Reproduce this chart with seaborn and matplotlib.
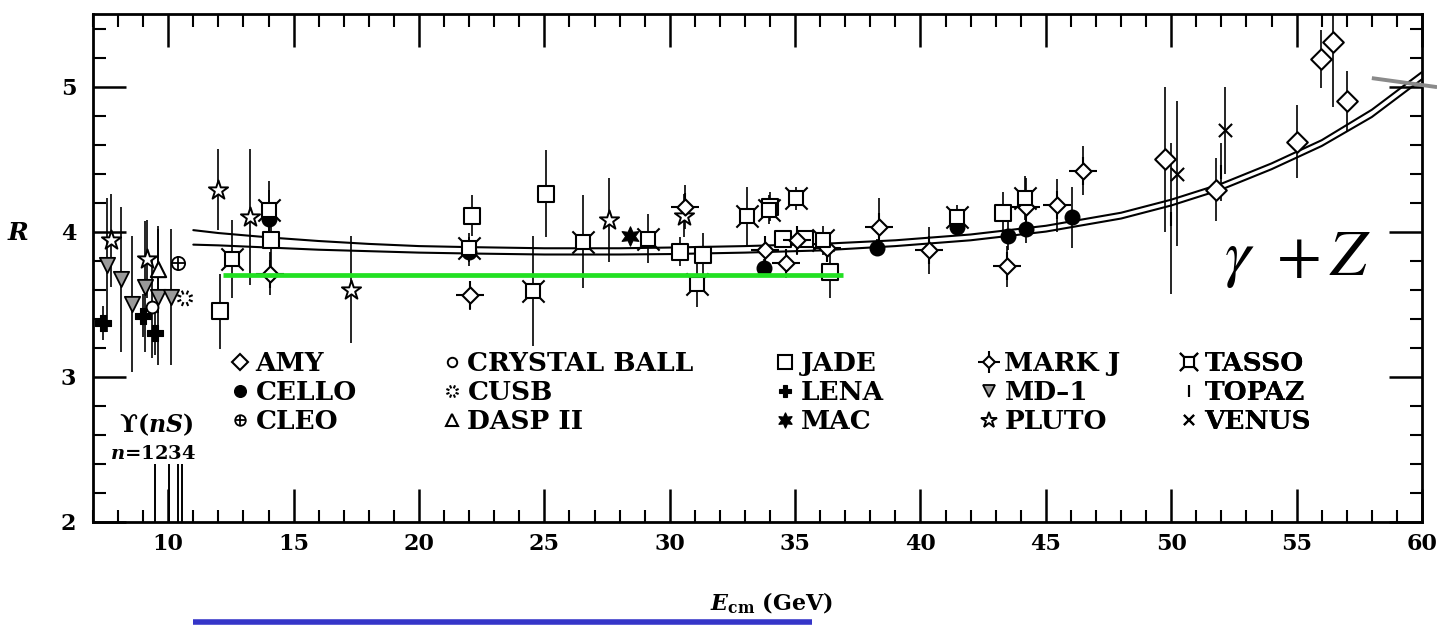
import numpy as np
import pandas as pd
import matplotlib
matplotlib.use("Agg")
import matplotlib.pyplot as plt
from matplotlib.lines import Line2D
from matplotlib.path import Path
from matplotlib.ticker import MultipleLocator
import seaborn as sns

# ---------------- data ----------------
amy_E = [49.76, 51.78, 55.0, 55.97, 56.47, 57.0]
amy_R = [4.50, 4.29, 4.62, 5.19, 5.31, 4.90]
amy_err = [0.50, 0.22, 0.25, 0.20, 0.45, 0.21]

cello_E = [14.03, 22.0, 33.76, 38.26, 41.45, 43.47, 44.21, 46.04]
cello_R = [4.09, 3.86, 3.75, 3.89, 4.03, 3.97, 4.02, 4.10]
cello_err = [0.20, 0.10, 0.06, 0.06, 0.06, 0.10, 0.10, 0.21]

cleo_E = [10.40]
cleo_R = [3.78]
cleo_err = [0.0]

cball_E = [9.34]
cball_R = [3.48]
cball_err = [0.35]

cusb_E = [10.67]
cusb_R = [3.54]
cusb_err = [0.0]

dasp_E = [9.60]
dasp_R = [3.74]
dasp_err = [0.30]

jade_E = [12.06, 14.08, 22.10, 25.07, 30.41, 31.32, 34.0, 34.53, 35.4, 36.4, 43.28]
jade_R = [3.45, 3.94, 4.11, 4.26, 3.86, 3.84, 4.17, 3.95, 3.95, 3.72, 4.13]
jade_err = [0.26, 0.20, 0.14, 0.30, 0.10, 0.15, 0.10, 0.05, 0.05, 0.18, 0.14]

lena_E = [7.41, 9.0, 9.47]
lena_R = [3.37, 3.42, 3.30]
lena_err = [0.12, 0.15, 0.15]

mac_E = [28.42]
mac_R = [3.97]
mac_err = [0.05]

markj_E = [14.06, 22.03, 30.6, 33.8, 34.64, 35.06, 36.26, 38.36, 40.32, 43.44, 44.21, 45.44, 46.47]
markj_R = [3.71, 3.56, 4.17, 3.87, 3.78, 3.94, 3.89, 4.03, 3.87, 3.76, 4.17, 4.18, 4.42]
markj_err = [0.15, 0.10, 0.15, 0.10, 0.10, 0.10, 0.10, 0.20, 0.16, 0.14, 0.20, 0.18, 0.17]

md1_E = [7.54, 8.10, 8.54, 9.07, 9.60, 10.13]
md1_R = [3.77, 3.67, 3.50, 3.62, 3.55, 3.55]
md1_err = [0.46, 0.50, 0.47, 0.45, 0.47, 0.47]

pluto_E = [7.70, 9.16, 11.99, 13.26, 17.28, 27.59, 30.57]
pluto_R = [3.94, 3.81, 4.29, 4.10, 3.60, 4.08, 4.11]
pluto_err = [0.32, 0.27, 0.28, 0.47, 0.37, 0.29, 0.15]

tasso_E = [12.53, 14.03, 22.0, 24.56, 26.53, 29.15, 31.08, 33.1, 33.97, 35.04, 36.13, 41.45, 44.17]
tasso_R = [3.81, 4.15, 3.89, 3.59, 3.93, 3.95, 3.64, 4.11, 4.15, 4.23, 3.94, 4.10, 4.23]
tasso_err = [0.27, 0.20, 0.10, 0.38, 0.32, 0.17, 0.16, 0.20, 0.10, 0.08, 0.10, 0.08, 0.15]

topaz_E = [50.0, 51.98]
topaz_R = [4.09, 4.41]
topaz_err = [0.52, 0.20]

venus_E = [50.22, 52.15]
venus_R = [4.40, 4.70]
venus_err = [0.50, 0.30]

# theory curve (gamma + Z), drawn as a double line
curve_E = [11, 12, 14, 16, 18, 20, 22, 25, 28, 30, 33, 36, 39, 42, 45, 48, 50, 52, 54, 56, 58, 60]
curve_upper = [4.01, 3.99, 3.96, 3.935, 3.915, 3.90, 3.893, 3.885, 3.885, 3.89, 3.90, 3.915,
               3.94, 3.98, 4.04, 4.13, 4.22, 4.33, 4.47, 4.63, 4.84, 5.10]
curve_lower = [3.91, 3.905, 3.89, 3.875, 3.865, 3.855, 3.849, 3.842, 3.842, 3.845, 3.855, 3.87,
               3.90, 3.94, 4.00, 4.09, 4.18, 4.29, 4.43, 4.59, 4.79, 5.05]

upsilon_E = [9.47, 10.03, 10.38, 10.53]
upsilon_top = 2.40

# annotation strokes
green_E = [12.2, 36.9]
green_R = [3.70, 3.70]
blue_E = [10.97, 35.66]
blue_R = [1.306, 1.306]
gray_E = [58.0, 60.6]
gray_R = [5.058, 4.996]

x_ticks = [10, 15, 20, 25, 30, 35, 40, 45, 50, 55, 60]
y_ticks = [2, 3, 4, 5]

# ---------------- style ----------------
sns.set_theme(style="ticks")
K = "black"
plt.rcParams["font.family"] = ["DejaVu Serif"]
plt.rcParams["font.weight"] = "normal"
plt.rcParams["mathtext.fontset"] = "dejavuserif"
for key in ["text.color", "axes.labelcolor", "xtick.color", "ytick.color", "axes.edgecolor"]:
    plt.rcParams[key] = K

W, H = 1437, 630
fig = plt.figure(figsize=(W / 100, H / 100), dpi=100)
fig.patch.set_facecolor("white")
ax_l, ax_r, ax_t, ax_b = 93, 1422, 14, 521.7
ax = fig.add_axes([ax_l / W, 1 - ax_b / H, (ax_r - ax_l) / W, (ax_b - ax_t) / H])
ax.set_facecolor("white")

# CUSB marker: ring of dashes
ang = np.deg2rad(np.arange(0, 360, 45) + 22.5)
cv, cc = [], []
for a in ang:
    cv += [(0.5 * np.cos(a), 0.5 * np.sin(a)), (np.cos(a), np.sin(a))]
    cc += [Path.MOVETO, Path.LINETO]
cusb_marker = Path(cv, cc)

# specs: (name, E, R, err, [layers]) ; each layer: marker, size(pt), face, lw
experiments = [
    ("AMY", amy_E, amy_R, amy_err, [("D", 10.5, "white", 1.5)]),
    ("CELLO", cello_E, cello_R, cello_err, [("o", 10.5, K, 1.0)]),
    ("CLEO", cleo_E, cleo_R, cleo_err, [("o", 9.5, "white", 1.3), ("+", 9.5, K, 1.3)]),
    ("CRYSTAL BALL", cball_E, cball_R, cball_err, [("o", 8.5, "white", 1.4)]),
    ("CUSB", cusb_E, cusb_R, cusb_err, [(cusb_marker, 11, "none", 1.5)]),
    ("DASP II", dasp_E, dasp_R, dasp_err, [("^", 11, "white", 1.5)]),
    ("JADE", jade_E, jade_R, jade_err, [("s", 12, "white", 1.5)]),
    ("LENA", lena_E, lena_R, lena_err, [("P", 11, K, 0.8)]),
    ("MAC", mac_E, mac_R, mac_err, [((6, 1, 0), 14, K, 0.8)]),
    ("MARK J", markj_E, markj_R, markj_err, [("+", 20, K, 1.5), ("D", 8.2, "white", 1.5)]),
    ("MD\u20131", md1_E, md1_R, md1_err, [("v", 11, "#9a9a9a", 1.3)]),
    ("PLUTO", pluto_E, pluto_R, pluto_err, [("*", 14.5, "white", 1.4)]),
    ("TASSO", tasso_E, tasso_R, tasso_err, [("x", 16, K, 1.5), ("s", 9.5, "white", 1.5)]),
    ("TOPAZ", topaz_E, topaz_R, topaz_err, [("|", 10, K, 1.5)]),
    ("VENUS", venus_E, venus_R, venus_err, [("x", 9.5, K, 1.5)]),
]

unfilled = {"+", "x", "|"}

# theory curve
curve_df = pd.DataFrame({"E": curve_E * 2, "R": curve_upper + curve_lower,
                         "line": ["upper"] * len(curve_E) + ["lower"] * len(curve_E)})
sns.lineplot(data=curve_df, x="E", y="R", units="line", estimator=None, color=K,
             linewidth=1.5, ax=ax, zorder=2, legend=False, sort=False)

# error bars + markers
for name, E, R, err, layers in experiments:
    ax.errorbar(E, R, yerr=err, fmt="none", ecolor=K, elinewidth=1.2, capsize=0, zorder=3)
    df = pd.DataFrame({"E": E, "R": R})
    for i, (m, size, face, lw) in enumerate(layers):
        if isinstance(m, str) and m in unfilled:
            sns.scatterplot(data=df, x="E", y="R", marker=m, s=size ** 2, color=K,
                            linewidth=lw, ax=ax, zorder=4 + i, legend=False)
        elif face == "none":
            ax.scatter(E, R, marker=m, s=size ** 2, facecolors="none", edgecolors=K,
                       linewidths=lw, zorder=4 + i)
        else:
            sns.scatterplot(data=df, x="E", y="R", marker=m, s=size ** 2, color=face,
                            edgecolor=K, linewidth=lw, ax=ax, zorder=4 + i, legend=False)

# Upsilon resonances
ax.vlines(upsilon_E, 2.0, upsilon_top, color=K, linewidth=1.4, zorder=3)
ax.text(9.51, 2.67, "\u03d2($\\mathbfit{nS}$)", ha="center", va="center",
        fontsize=17, fontweight="bold", zorder=6)
ax.text(9.39, 2.465, "$\\mathbfit{n}$=1234", ha="center", va="center",
        fontsize=14, fontweight="bold", zorder=6)

# gamma + Z label (Times-like, regular weight)
ax.text(55.02, 3.815, r"$\gamma\;\;\mathrm{+}\,Z$", ha="center", va="center", fontsize=47,
        fontweight="normal", math_fontfamily="stix", zorder=6)

# annotation strokes
ax.plot(green_E, green_R, color="#22e022", linewidth=3.4, solid_capstyle="butt", zorder=7)
ax.plot(blue_E, blue_R, color="#3535c8", linewidth=4.0, solid_capstyle="butt", zorder=7,
        clip_on=False)
ax.plot(gray_E, gray_R, color="#8a8a8a", linewidth=2.8, solid_capstyle="butt", zorder=7,
        clip_on=False)

# axes
ax.set_xlim(7, 60)
ax.set_ylim(2, 5.5)
ax.set_xticks(x_ticks)
ax.set_yticks(y_ticks)
ax.set_xticklabels([str(t) for t in x_ticks])
ax.set_yticklabels([str(t) for t in y_ticks])
ax.xaxis.set_minor_locator(MultipleLocator(1))
ax.yaxis.set_minor_locator(MultipleLocator(0.2))
ax.tick_params(which="major", direction="in", length=24, width=1.8, top=True, right=True,
               labelsize=16, color=K, labelcolor=K)
ax.tick_params(which="minor", direction="in", length=9, width=1.5, top=True, right=True, color=K)
ax.tick_params(axis="x", which="major", pad=8)
ax.tick_params(axis="y", which="major", pad=12)
for t in ax.get_xticklabels() + ax.get_yticklabels():
    t.set_fontweight("bold")
for s in ax.spines.values():
    s.set_linewidth(2.0)
    s.set_color(K)

ax.set_ylabel("R", rotation=0, fontsize=18, fontweight="bold", fontstyle="italic", color=K)
ax.yaxis.set_label_coords((18 - ax_l) / (ax_r - ax_l), (ax_b - 245) / (ax_b - ax_t))
ax.set_xlabel(r"$\mathbfit{E}_{\mathbf{cm}}$ (GeV)", fontsize=16, fontweight="bold", color=K)
ax.xaxis.set_label_coords((772 - ax_l) / (ax_r - ax_l), (ax_b - 591) / (ax_b - ax_t))

# legend: five columns of three entries
handles = {}
for name, E, R, err, layers in experiments:
    parts = []
    for m, size, face, lw in layers:
        if isinstance(m, str) and m in unfilled:
            parts.append(Line2D([], [], linestyle="none", marker=m, markersize=size * 0.8,
                                color=K, markeredgewidth=lw))
        elif face == "none":
            parts.append(Line2D([], [], linestyle="none", marker=m, markersize=size * 0.8,
                                markerfacecolor="none", markeredgecolor=K, markeredgewidth=lw))
        else:
            parts.append(Line2D([], [], linestyle="none", marker=m, markersize=size * 0.8,
                                markerfacecolor=face, markeredgecolor=K, markeredgewidth=lw))
    handles[name] = tuple(parts) if len(parts) > 1 else parts[0]

names = [e[0] for e in experiments]
col_left_px = [229, 441, 774, 978, 1178]
leg_top_px = 351
for c in range(5):
    col = names[3 * c:3 * c + 3]
    leg = ax.legend([handles[n] for n in col], col, loc="upper left",
                    bbox_to_anchor=(col_left_px[c] / W, 1 - leg_top_px / H),
                    bbox_transform=fig.transFigure, frameon=False, borderpad=0,
                    borderaxespad=0, handlelength=0.8, handletextpad=0.2,
                    labelspacing=0.15, labelcolor=K,
                    prop={"family": "DejaVu Serif", "weight": "bold", "size": 19})
    ax.add_artist(leg)

fig.savefig("out.png", dpi=100, facecolor="white")
